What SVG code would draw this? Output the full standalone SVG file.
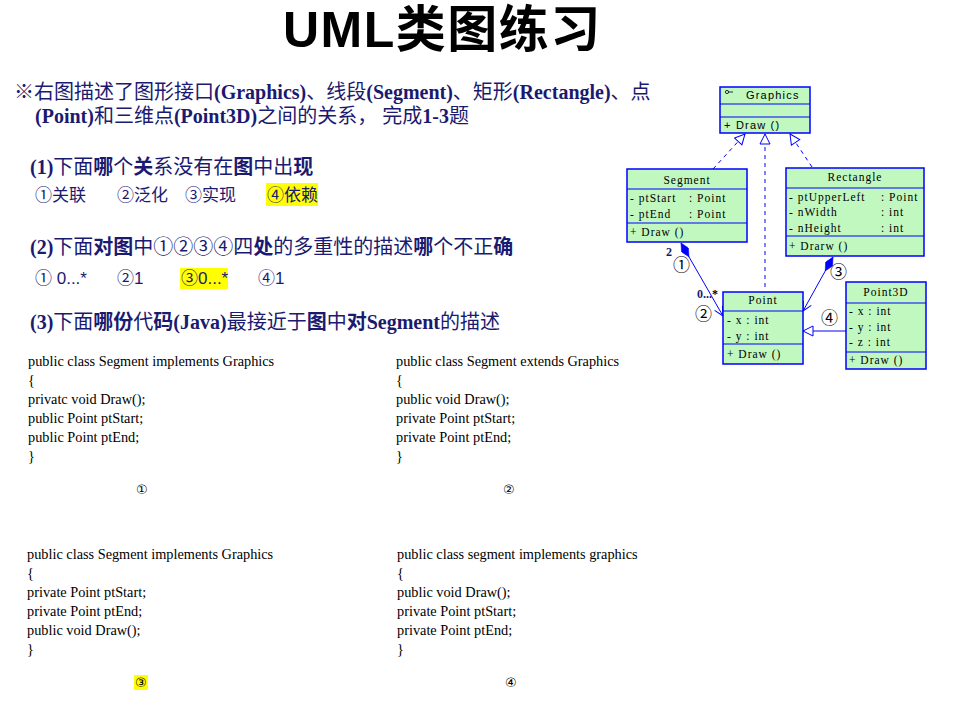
<svg xmlns="http://www.w3.org/2000/svg" width="955" height="714" viewBox="0 0 955 714">
  <style>
    .title { font-family: "Liberation Sans", "Noto Sans CJK SC", sans-serif; font-weight: bold; font-size: 50px; letter-spacing: 1.5px; fill: #000; }
    .q { font-family: "Liberation Serif", "Noto Sans CJK SC", serif; font-size: 20px; fill: #1a1a70; }
    .b { font-weight: bold; }
    .cj { font-family: "Noto Sans CJK SC", sans-serif; }
    .opt { font-family: "Liberation Sans", "Noto Sans CJK SC", sans-serif; font-size: 17px; fill: #1a1a70; }
    .code { font-family: "Liberation Serif", serif; font-size: 14.3px; fill: #000; }
    .cnum { font-family: "DejaVu Sans", sans-serif; font-size: 13px; fill: #000; }
    .hl { fill: #ffff00; }
    .box { fill: #c0f8c0; stroke: #0000ff; stroke-width: 1.5; }
    .div { stroke: #0000ff; stroke-width: 1.2; }
    .uml { font-family: "Liberation Serif", serif; font-size: 11.5px; fill: #000; letter-spacing: 1px; }
    .umls { font-family: "Liberation Sans", sans-serif; font-size: 11px; fill: #000; letter-spacing: 1.2px; }
    .mid { text-anchor: middle; }
    .dash { fill: none; stroke: #0000ff; stroke-width: 1; stroke-dasharray: 4 4; }
    .solid { fill: none; stroke: #0000ff; stroke-width: 1; }
    .circ { font-family: "Noto Sans CJK SC", sans-serif; font-size: 17px; fill: #000; }
    .mult { font-family: "Liberation Serif", serif; font-weight: bold; font-size: 12px; fill: #1a1a70; }
  </style>
  <defs>
    <marker id="tri" viewBox="0 0 12 12" refX="11" refY="6" markerWidth="12" markerHeight="12" markerUnits="userSpaceOnUse" orient="auto">
      <path d="M1,1 L11,6 L1,11 Z" fill="#fff" stroke="#0000ff" stroke-width="1"/>
    </marker>
    <marker id="open" viewBox="0 0 12 12" refX="11" refY="6" markerWidth="12" markerHeight="12" markerUnits="userSpaceOnUse" orient="auto">
      <path d="M2,1.5 L11,6 L2,10.5" fill="none" stroke="#0000ff" stroke-width="1"/>
    </marker>
    <marker id="dia" viewBox="0 0 16 8" refX="0" refY="4" markerWidth="16" markerHeight="8" markerUnits="userSpaceOnUse" orient="auto">
      <path d="M0,4 L8,0 L16,4 L8,8 Z" fill="#0000ff" stroke="#0000ff" stroke-width="0.5"/>
    </marker>
  </defs>

  <!-- heading -->
  <text class="title" x="283" y="47">UML类图练习</text>

  <text class="q" x="14" y="99">※右图描述了图形接口<tspan class="b">(Graphics)</tspan>、线段<tspan class="b">(Segment)</tspan>、矩形<tspan class="b">(Rectangle)</tspan>、点</text>
  <text class="q" x="35" y="123"><tspan class="b">(Point)</tspan>和三维点<tspan class="b">(Point3D)</tspan>之间的关系， 完成<tspan class="b">1-3</tspan>题</text>

  <!-- question 1 -->
  <text class="q" x="30" y="174"><tspan class="b">(1)</tspan>下面<tspan class="b">哪</tspan>个<tspan class="b">关</tspan>系没有在<tspan class="b">图</tspan>中出<tspan class="b">现</tspan></text>
  <rect class="hl" x="266" y="183" width="52" height="23"/>
  <text class="opt" x="35" y="201"><tspan class="cj">①</tspan>关联</text>
  <text class="opt" x="117" y="201"><tspan class="cj">②</tspan>泛化</text>
  <text class="opt" x="185" y="201"><tspan class="cj">③</tspan>实现</text>
  <text class="opt" x="267" y="201"><tspan class="cj">④</tspan>依赖</text>

  <!-- question 2 -->
  <text class="q" x="30" y="254"><tspan class="b">(2)</tspan>下面<tspan class="b">对图</tspan>中<tspan class="cj">①②③④</tspan>四<tspan class="b">处</tspan>的多重性的描述<tspan class="b">哪</tspan>个不正<tspan class="b">确</tspan></text>
  <rect class="hl" x="180" y="268" width="48" height="21"/>
  <text class="opt" x="35" y="284"><tspan class="cj">①</tspan> 0...*</text>
  <text class="opt" x="117" y="284"><tspan class="cj">②</tspan>1</text>
  <text class="opt" x="181" y="284"><tspan class="cj">③</tspan>0...*</text>
  <text class="opt" x="258" y="284"><tspan class="cj">④</tspan>1</text>

  <!-- question 3 -->
  <text class="q" x="30" y="329"><tspan class="b">(3)</tspan>下面<tspan class="b">哪份</tspan>代<tspan class="b">码(Java)</tspan>最接近于<tspan class="b">图</tspan>中<tspan class="b">对Segment</tspan>的描述</text>

  <!-- code option 1 -->
  <g id="code1">
    <text class="code" x="28" y="366">public class Segment implements Graphics</text>
    <text class="code" x="28" y="385">{</text>
    <text class="code" x="28" y="404">privatc void Draw();</text>
    <text class="code" x="28" y="423">public Point ptStart;</text>
    <text class="code" x="28" y="442">public Point ptEnd;</text>
    <text class="code" x="28" y="461">}</text>
    <text class="cnum" x="136" y="494">①</text>
  </g>
  <!-- code option 2 -->
  <g id="code2">
    <text class="code" x="396" y="366">public class Segment extends Graphics</text>
    <text class="code" x="396" y="385">{</text>
    <text class="code" x="396" y="404">public void Draw();</text>
    <text class="code" x="396" y="423">private Point ptStart;</text>
    <text class="code" x="396" y="442">private Point ptEnd;</text>
    <text class="code" x="396" y="461">}</text>
    <text class="cnum" x="503" y="494">②</text>
  </g>
  <!-- code option 3 -->
  <g id="code3">
    <text class="code" x="27" y="559">public class Segment implements Graphics</text>
    <text class="code" x="27" y="578">{</text>
    <text class="code" x="27" y="597">private Point ptStart;</text>
    <text class="code" x="27" y="616">private Point ptEnd;</text>
    <text class="code" x="27" y="635">public void Draw();</text>
    <text class="code" x="27" y="654">}</text>
    <rect class="hl" x="134" y="675" width="14" height="15"/>
    <text class="cnum" x="135" y="687">③</text>
  </g>
  <!-- code option 4 -->
  <g id="code4">
    <text class="code" x="397" y="559">public class segment implements graphics</text>
    <text class="code" x="397" y="578">{</text>
    <text class="code" x="397" y="597">public void Draw();</text>
    <text class="code" x="397" y="616">private Point ptStart;</text>
    <text class="code" x="397" y="635">private Point ptEnd;</text>
    <text class="code" x="397" y="654">}</text>
    <text class="cnum" x="505" y="687">④</text>
  </g>

  <!-- class diagram connectors -->
  <g id="connectors">
    <path class="dash" d="M713,169 L745,134" marker-end="url(#tri)"/>
    <path class="dash" d="M765,287 L765,134" marker-end="url(#tri)"/>
    <path class="dash" d="M812,167 L790,134" marker-end="url(#tri)"/>
    <path class="solid" d="M681,243 L723,316" marker-start="url(#dia)" marker-end="url(#open)"/>
    <path class="solid" d="M833,257 L803,311" marker-start="url(#dia)" marker-end="url(#open)"/>
    <path class="solid" d="M846,331 L803,331" marker-end="url(#tri)"/>
    <text class="mult" x="666" y="256">2</text>
    <text class="circ" x="673" y="271">①</text>
    <text class="mult" x="697" y="298">0...<tspan fill="#000">*</tspan></text>
    <text class="circ" x="695" y="320">②</text>
    <text class="circ" x="830" y="278">③</text>
    <text class="circ" x="821" y="324">④</text>
  </g>

  <g id="Graphics">
    <rect class="box" x="720" y="87" width="90" height="46"/>
    <line class="div" x1="720" y1="104" x2="810" y2="104"/>
    <line class="div" x1="720" y1="117" x2="810" y2="117"/>
    <circle cx="727" cy="92" r="1.6" fill="none" stroke="#000" stroke-width="0.8"/>
    <line x1="728.6" y1="92" x2="733" y2="92" stroke="#000" stroke-width="0.8"/>
    <text class="umls" x="746" y="99">Graphics</text>
    <text class="umls" x="724" y="129">+ Draw ()</text>
  </g>

  <g id="Segment">
    <rect class="box" x="627" y="169" width="120" height="73"/>
    <line class="div" x1="627" y1="189" x2="747" y2="189"/>
    <line class="div" x1="627" y1="223" x2="747" y2="223"/>
    <text class="uml mid" x="687" y="184">Segment</text>
    <text class="uml" x="630" y="202">- ptStart</text>
    <text class="uml" x="689" y="202">: Point</text>
    <text class="uml" x="630" y="218">- ptEnd</text>
    <text class="uml" x="689" y="218">: Point</text>
    <text class="uml" x="630" y="236">+ Draw ()</text>
  </g>

  <g id="Rectangle">
    <rect class="box" x="786" y="168" width="138" height="88"/>
    <line class="div" x1="786" y1="188" x2="924" y2="188"/>
    <line class="div" x1="786" y1="236" x2="924" y2="236"/>
    <text class="uml mid" x="855" y="181">Rectangle</text>
    <text class="uml" x="789" y="201">- ptUpperLeft</text>
    <text class="uml" x="881" y="201">: Point</text>
    <text class="uml" x="789" y="216">- nWidth</text>
    <text class="uml" x="881" y="216">: int</text>
    <text class="uml" x="789" y="232">- nHeight</text>
    <text class="uml" x="881" y="232">: int</text>
    <text class="uml" x="789" y="250">+ Drarw ()</text>
  </g>

  <g id="Point">
    <rect class="box" x="723" y="292" width="80" height="72"/>
    <line class="div" x1="723" y1="311" x2="803" y2="311"/>
    <line class="div" x1="723" y1="344" x2="803" y2="344"/>
    <text class="uml mid" x="763" y="304">Point</text>
    <text class="uml" x="727" y="324">-  x  : int</text>
    <text class="uml" x="727" y="340">-  y  : int</text>
    <text class="uml" x="727" y="358">+ Draw ()</text>
  </g>

  <g id="Point3D">
    <rect class="box" x="846" y="282" width="80" height="87"/>
    <line class="div" x1="846" y1="303" x2="926" y2="303"/>
    <line class="div" x1="846" y1="352" x2="926" y2="352"/>
    <text class="uml mid" x="886" y="296">Point3D</text>
    <text class="uml" x="849" y="315">-  x  : int</text>
    <text class="uml" x="849" y="331">-  y  : int</text>
    <text class="uml" x="849" y="346">-  z  : int</text>
    <text class="uml" x="849" y="364">+ Draw ()</text>
  </g>
</svg>
